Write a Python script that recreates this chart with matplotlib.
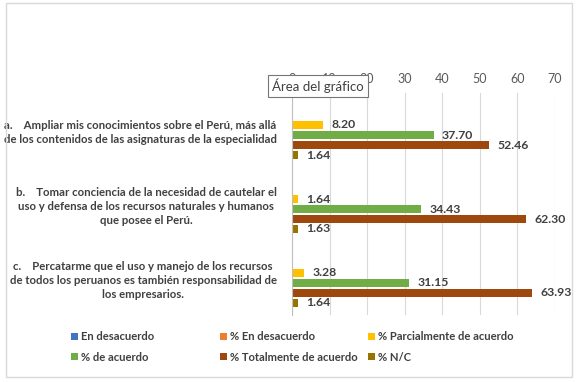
import numpy as np
import matplotlib.pyplot as plt
from matplotlib.patches import Rectangle

# Survey answers (percent) per statement
categories = ["a.    Ampliar mis conocimientos sobre el Perú, más allá\nde los contenidos de las asignaturas de la especialidad",
              "b.    Tomar conciencia de la necesidad de cautelar el\nuso y defensa de los recursos naturales y humanos\nque posee el Perú.",
              "c.    Percatarme que el uso y manejo de los recursos\nde todos los peruanos es también responsabilidad de\nlos empresarios."]
series_names = ["En desacuerdo", "% En desacuerdo", "% Parcialmente de acuerdo",
                "% de acuerdo", "% Totalmente de acuerdo", "% N/C"]
en_desacuerdo = [np.nan, np.nan, np.nan]
pct_en_desacuerdo = [np.nan, np.nan, np.nan]
pct_parcial = [8.20, 1.64, 3.28]
pct_acuerdo = [37.70, 34.43, 31.15]
pct_total = [52.46, 62.30, 63.93]
pct_nc = [1.64, 1.63, 1.64]
xticks = [0, 10, 20, 30, 40, 50, 60, 70]

colors = ["#4472C4", "#ED7D31", "#FFC000", "#70AD47", "#9E480E", "#997300"]
all_series = [en_desacuerdo, pct_en_desacuerdo, pct_parcial, pct_acuerdo, pct_total, pct_nc]

plt.rcParams['font.family'] = ['Lato', 'DejaVu Sans']
txt = "#404040"

fig = plt.figure(figsize=(5.79, 3.82), dpi=100)
fig.patches.append(Rectangle((6 / 579, 1 - 377 / 382), 566 / 579, 374 / 382,
                             transform=fig.transFigure, fill=False,
                             edgecolor="#D9D9D9", linewidth=1))
ax = fig.add_axes([292 / 579, 1 - 315 / 382, 263 / 579, 222 / 382])

y = np.arange(len(categories))
slot = 10 / 74
thick = 8 / 74
handles = []
for k, (vals, name, c) in enumerate(zip(all_series, series_names, colors)):
    pos = y + (k - 2.5) * slot
    b = ax.barh(pos, vals, height=thick, color=c, label=name)
    handles.append(b)
    for p, v in zip(pos, vals):
        if not np.isnan(v):
            ax.annotate(f"{v:.2f}", (v, p), xytext=(6, 0), textcoords="offset points",
                        va="center", ha="left", fontsize=8.8, fontweight="bold", color=txt)

ax.set_xlim(0, 70)
ax.set_ylim(2.5, -0.5)
ax.set_xticks(xticks)
ax.xaxis.tick_top()
ax.tick_params(axis="x", length=0, pad=6, labelsize=9, labelcolor="#595959")
ax.set_yticks(y)
ax.set_yticklabels(categories, fontsize=8.2, fontweight="bold", color=txt,
                   multialignment="center", linespacing=1.35)
ax.tick_params(axis="y", length=0, pad=11)
ax.grid(axis="x", color="#D9D9D9", linewidth=0.8)
ax.set_axisbelow(True)
for s in ["top", "right", "bottom"]:
    ax.spines[s].set_visible(False)
ax.spines["left"].set_color("#BFBFBF")

# Excel-style legend: equal column widths, filled row by row
col_x = [71, 220, 368]
for ci, x0 in enumerate(col_x):
    idx = [ci, ci + 3]
    leg = fig.legend([handles[i] for i in idx], [series_names[i] for i in idx],
                     loc="center left", bbox_to_anchor=(x0 / 579, 1 - 347 / 382),
                     frameon=False, fontsize=8.1, handlelength=0.6, handleheight=0.6,
                     handletextpad=0.3, labelspacing=0.85, borderpad=0, borderaxespad=0)
    for t in leg.get_texts():
        t.set_color(txt)
        t.set_fontweight("bold")

fig.text(272 / 579, 1 - 86 / 382, "Área del gráfico", fontsize=9.5, color="#404040",
         va="center", ha="left",
         bbox=dict(boxstyle="square,pad=0.3", facecolor="white", edgecolor="#767676", linewidth=0.8))

fig.savefig("out.png", dpi=100)
